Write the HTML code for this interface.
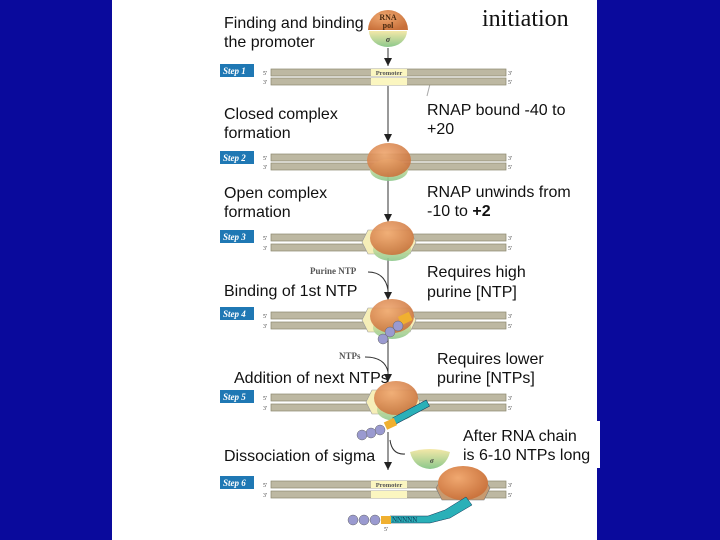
<!DOCTYPE html>
<html><head><meta charset="utf-8"><style>
html,body{margin:0;padding:0;background:#0a0a9c;}
svg{display:block}
.t{font-family:"Liberation Sans",sans-serif;font-size:16px;fill:#111}
.s{font-family:"Liberation Serif",serif;font-size:6px;fill:#444}
.st{font-family:"Liberation Serif",serif;font-size:9px;font-style:italic;font-weight:bold;fill:#fff}
</style></head><body>
<svg width="720" height="540" viewBox="0 0 720 540" xmlns="http://www.w3.org/2000/svg">
<defs>
<radialGradient id="or" cx="0.4" cy="0.35" r="0.7"><stop offset="0" stop-color="#f0a870"/><stop offset="1" stop-color="#c8703a"/></radialGradient>
<linearGradient id="gr" x1="0" y1="0" x2="0" y2="1"><stop offset="0" stop-color="#f4e8a8"/><stop offset="1" stop-color="#8cc88c"/></linearGradient>
<marker id="ar" markerWidth="8" markerHeight="8" refX="8" refY="4" orient="auto" markerUnits="userSpaceOnUse"><path d="M0,0 L8,4 L0,8 z" fill="#222"/></marker>
</defs>
<rect x="0" y="0" width="720" height="540" fill="#0a0a9c"/>
<rect x="112" y="0" width="485" height="540" fill="#fff"/>
<text x="482" y="26" font-family="Liberation Serif,serif" font-size="24" fill="#111">initiation</text>

<path d="M368,30 A20,20 0 0 1 408,30 Z" fill="url(#or)"/>
<path d="M369,31 A19,16 0 0 0 407,31 Z" fill="url(#gr)"/>
<text x="388" y="20" text-anchor="middle" font-family="Liberation Serif,serif" font-size="8" font-weight="bold" fill="#4a2a10">RNA</text>
<text x="388" y="28" text-anchor="middle" font-family="Liberation Serif,serif" font-size="8" font-weight="bold" fill="#4a2a10">pol</text>
<text x="388" y="42" text-anchor="middle" font-family="Liberation Serif,serif" font-size="8" font-style="italic" font-weight="bold" fill="#333">σ</text>

<text class="t" x="224" y="28">Finding and binding</text>
<text class="t" x="224" y="47">the promoter</text>
<text class="t" x="224" y="119">Closed complex</text>
<text class="t" x="224" y="138">formation</text>
<text class="t" x="427" y="115">RNAP bound -40 to</text>
<text class="t" x="427" y="134">+20</text>
<text class="t" x="224" y="198">Open complex</text>
<text class="t" x="224" y="217">formation</text>
<text class="t" x="427" y="197">RNAP unwinds from</text>
<text class="t" x="427" y="216">-10 to <tspan font-weight="bold">+2</tspan></text>
<text class="t" x="224" y="296">Binding of 1st NTP</text>
<text class="t" x="427" y="277">Requires high</text>
<text class="t" x="427" y="297">purine [NTP]</text>
<text class="t" x="234" y="383">Addition of next NTPs</text>
<text class="t" x="437" y="364">Requires lower</text>
<text class="t" x="437" y="383">purine [NTPs]</text>
<text class="t" x="224" y="461">Dissociation of sigma</text>
<rect x="456" y="421" width="144" height="47" fill="#fff"/>
<text class="t" x="463" y="441">After RNA chain</text>
<text class="t" x="463" y="460">is 6-10 NTPs long</text>

<g stroke="#333" stroke-width="1" fill="none">
<line x1="388" y1="48" x2="388" y2="66" marker-end="url(#ar)"/>
<line x1="388" y1="86" x2="388" y2="142" marker-end="url(#ar)"/>
<line x1="388" y1="172" x2="388" y2="222" marker-end="url(#ar)"/>
<line x1="388" y1="258" x2="388" y2="300" marker-end="url(#ar)"/>
<path d="M368,272 Q385,272 388,290"/>
<line x1="388" y1="338" x2="388" y2="382" marker-end="url(#ar)"/>
<path d="M365,357 Q385,357 388,372"/>
<line x1="388" y1="432" x2="388" y2="470" marker-end="url(#ar)"/>
<path d="M390,440 Q392,455 405,454"/>
<line x1="430" y1="84" x2="427" y2="96" stroke="#aaa"/>
</g>
<text x="310" y="274" font-family="Liberation Serif,serif" font-size="9" font-weight="bold" fill="#555">Purine NTP</text>
<text x="339" y="359" font-family="Liberation Serif,serif" font-size="9" font-weight="bold" fill="#555">NTPs</text>

<g>
<g fill="#bdb8a2" stroke="#8c8870" stroke-width="0.7">
<rect x="271" y="69" width="235" height="7"/><rect x="271" y="78" width="235" height="7"/>
<rect x="271" y="154" width="235" height="7"/><rect x="271" y="163" width="235" height="7"/>
<rect x="271" y="234" width="235" height="7"/><rect x="271" y="244" width="235" height="7"/>
<rect x="271" y="312" width="235" height="7"/><rect x="271" y="322" width="235" height="7"/>
<rect x="271" y="394" width="235" height="7"/><rect x="271" y="404" width="235" height="7"/>
<rect x="271" y="481" width="235" height="7"/><rect x="271" y="491" width="235" height="7"/>
</g>
<g fill="#fbf6c0">
<rect x="371" y="69" width="36" height="7"/><rect x="371" y="78" width="36" height="7"/>
<rect x="371" y="394" width="36" height="7"/>
<rect x="371" y="481" width="36" height="7"/><rect x="371" y="491" width="36" height="7"/>
</g>
<text x="389" y="75" text-anchor="middle" font-family="Liberation Serif,serif" font-size="6.5" font-weight="bold" fill="#555">Promoter</text>
<text x="389" y="487" text-anchor="middle" font-family="Liberation Serif,serif" font-size="6.5" font-weight="bold" fill="#555">Promoter</text>
<g>
<text x="263" y="75" class="s">5'</text><text x="263" y="84" class="s">3'</text><text x="508" y="75" class="s">3'</text><text x="508" y="84" class="s">5'</text>
<text x="263" y="160" class="s">5'</text><text x="263" y="169" class="s">3'</text><text x="508" y="160" class="s">3'</text><text x="508" y="169" class="s">5'</text>
<text x="263" y="240" class="s">5'</text><text x="263" y="250" class="s">3'</text><text x="508" y="240" class="s">3'</text><text x="508" y="250" class="s">5'</text>
<text x="263" y="318" class="s">5'</text><text x="263" y="328" class="s">3'</text><text x="508" y="318" class="s">3'</text><text x="508" y="328" class="s">5'</text>
<text x="263" y="400" class="s">5'</text><text x="263" y="410" class="s">3'</text><text x="508" y="400" class="s">3'</text><text x="508" y="410" class="s">5'</text>
<text x="263" y="487" class="s">5'</text><text x="263" y="497" class="s">3'</text><text x="508" y="487" class="s">3'</text><text x="508" y="497" class="s">5'</text>
</g>
<g fill="#1f78b4">
<rect x="220" y="64" width="34" height="13"/><rect x="220" y="151" width="34" height="13"/>
<rect x="220" y="230" width="34" height="13"/><rect x="220" y="307" width="34" height="13"/>
<rect x="220" y="390" width="34" height="13"/><rect x="220" y="476" width="34" height="13"/>
</g>
<text class="st" x="223" y="74">Step 1</text><text class="st" x="223" y="161">Step 2</text>
<text class="st" x="223" y="240">Step 3</text><text class="st" x="223" y="317">Step 4</text>
<text class="st" x="223" y="400">Step 5</text><text class="st" x="223" y="486">Step 6</text>
</g>

<ellipse cx="389" cy="170" rx="19" ry="11" fill="url(#gr)" opacity="0.9"/>
<ellipse cx="389" cy="160" rx="22" ry="17" fill="url(#or)" opacity="0.9"/>
<path d="M368,230 L410,230 L416,242 L410,254 L368,254 L362,242 Z" fill="#f6eeb8" stroke="#999" stroke-width="0.6"/>
<ellipse cx="392" cy="250" rx="19" ry="11" fill="url(#gr)" opacity="0.9"/>
<ellipse cx="392" cy="238" rx="22" ry="17" fill="url(#or)" opacity="0.9"/>
<path d="M368,308 L410,308 L416,320 L410,332 L368,332 L362,320 Z" fill="#f6eeb8" stroke="#999" stroke-width="0.6"/>
<ellipse cx="392" cy="328" rx="19" ry="11" fill="url(#gr)" opacity="0.9"/>
<ellipse cx="392" cy="316" rx="22" ry="17" fill="url(#or)" opacity="0.9"/>
<rect x="399" y="314" width="12" height="9" fill="#f0b030" transform="rotate(-25 405 318)"/>
<g fill="#9a9ad0" stroke="#666" stroke-width="0.5"><circle cx="398" cy="326" r="5"/><circle cx="390" cy="332" r="5"/><circle cx="383" cy="339" r="5"/></g>
<path d="M372,390 L414,390 L420,402 L414,414 L372,414 L366,402 Z" fill="#f6eeb8" stroke="#999" stroke-width="0.6"/>
<ellipse cx="396" cy="410" rx="19" ry="11" fill="url(#gr)" opacity="0.9"/>
<ellipse cx="396" cy="398" rx="22" ry="17" fill="url(#or)" opacity="0.9"/>
<rect x="396" y="417" width="38" height="7" fill="#2ab0b8" stroke="#135" stroke-width="0.5" transform="rotate(-28 396 424)"/>
<rect x="385" y="420" width="11" height="8" fill="#f0b030" transform="rotate(-25 390 424)"/>
<g fill="#9a9ad0" stroke="#666" stroke-width="0.5"><circle cx="380" cy="430" r="5"/><circle cx="371" cy="433" r="5"/><circle cx="362" cy="435" r="5"/></g>
<path d="M410,452 Q430,446 450,452 Q446,468 430,469 Q414,468 410,452 Z" fill="url(#gr)"/>
<text x="430" y="463" font-family="Liberation Serif,serif" font-size="7" font-style="italic" font-weight="bold" fill="#333">σ</text>
<path d="M442,478 L484,478 L490,488 L484,500 L442,500 L436,488 Z" fill="#c79a70" stroke="#777" stroke-width="0.6"/>
<ellipse cx="463" cy="483" rx="25" ry="17" fill="url(#or)"/>
<path d="M390,516 L428,516 L445,510 L466,497 L472,505 L450,518 L430,523 L390,523 Z" fill="#2ab0b8" stroke="#135" stroke-width="0.5"/>
<text x="392" y="522" font-family="Liberation Serif,serif" font-size="7" fill="#135">NNNNN</text>
<rect x="381" y="516" width="10" height="8" fill="#f0b030"/>
<g fill="#9a9ad0" stroke="#666" stroke-width="0.5"><circle cx="375" cy="520" r="5"/><circle cx="364" cy="520" r="5"/><circle cx="353" cy="520" r="5"/></g>
<text x="384" y="531" class="s">5'</text>
</svg>
</body></html>
